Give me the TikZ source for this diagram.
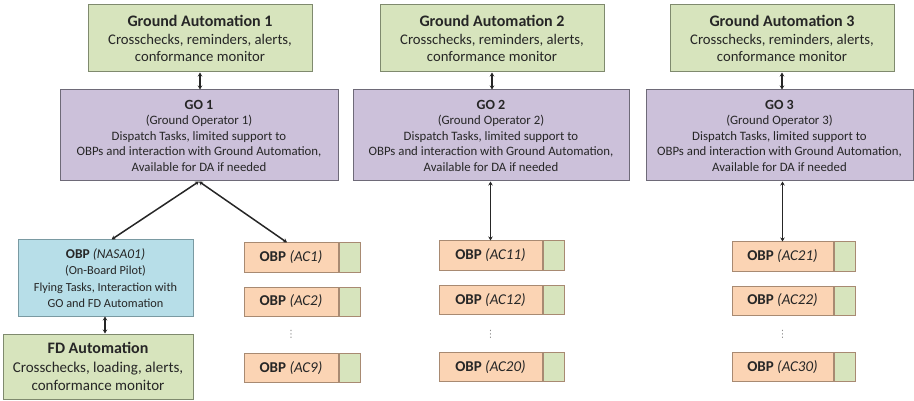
\documentclass[tikz,border=0pt]{standalone}
\usepackage{fontspec}
\setmainfont{Carlito}
\newfontfamily\dejavu{DejaVu Sans}
\usetikzlibrary{arrows.meta}
\definecolor{gafill}{HTML}{D7E4BD}
\definecolor{gadraw}{HTML}{7F8A6E}
\definecolor{gofill}{HTML}{CCC1DA}
\definecolor{godraw}{HTML}{6E6A78}
\definecolor{obfill}{HTML}{B7DEE8}
\definecolor{obdraw}{HTML}{7A9AA2}
\definecolor{acfill}{HTML}{FBD4B4}
\definecolor{acdraw}{HTML}{A88A72}
\definecolor{txt}{HTML}{262626}
\tikzset{
  box/.style={draw, line width=1pt, align=center, inner sep=0pt, text=txt},
  gabox/.style={box, fill=gafill, draw=gadraw, minimum width=224pt, minimum height=67pt,
     font=\fontsize{14.7}{17.5}\selectfont},
  gobox/.style={box, fill=gofill, draw=godraw, minimum height=91pt,
     font=\fontsize{12.8}{15.5}\selectfont},
  obbox/.style={box, fill=obfill, draw=obdraw, minimum width=175pt, minimum height=76pt,
     font=\fontsize{12.3}{16.5}\selectfont},
  fdbox/.style={box, fill=gafill, draw=gadraw, minimum width=190pt, minimum height=65pt,
     font=\fontsize{15}{18.5}\selectfont},
  acbox/.style={box, fill=acfill, draw=acdraw, minimum height=29pt, font=\fontsize{15}{17}\selectfont},
  accap/.style={box, fill=gafill, draw=acdraw, minimum height=29pt, minimum width=21pt},
  link/.style={draw=black!85, line width=1.5pt, {Stealth[length=4pt,width=4.5pt]}-{Stealth[length=4pt,width=4.5pt]}},
  vdot/.style={text=black!45, font=\dejavu\fontsize{10}{10}\selectfont, inner sep=0pt}
}
\begin{document}
\begin{tikzpicture}[x=1pt,y=-1pt]
\useasboundingbox (0,0) rectangle (914,401);
% Ground automation
\node[gabox] (ga1) at (200,38.5) {{\fontsize{16}{18}\selectfont\textbf{Ground Automation 1}}\\Crosschecks, reminders, alerts,\\conformance monitor};
\node[gabox] (ga2) at (492,38.5) {{\fontsize{16}{18}\selectfont\textbf{Ground Automation 2}}\\Crosschecks, reminders, alerts,\\conformance monitor};
\node[gabox] (ga3) at (782,38.5) {{\fontsize{16}{18}\selectfont\textbf{Ground Automation 3}}\\Crosschecks, reminders, alerts,\\conformance monitor};
% Ground operators
\node[gobox, minimum width=278pt] (go1) at (199,135.5) {{\fontsize{14}{17}\selectfont\textbf{GO 1}}\\(Ground Operator 1)\\Dispatch Tasks, limited support to\\OBPs and interaction with Ground Automation,\\Available for DA if needed};
\node[gobox, minimum width=276pt] (go2) at (491,135.5) {{\fontsize{14}{17}\selectfont\textbf{GO 2}}\\(Ground Operator 2)\\Dispatch Tasks, limited support to\\OBPs and interaction with Ground Automation,\\Available for DA if needed};
\node[gobox, minimum width=267pt] (go3) at (779.5,135.5) {{\fontsize{14}{17}\selectfont\textbf{GO 3}}\\(Ground Operator 3)\\Dispatch Tasks, limited support to\\OBPs and interaction with Ground Automation,\\Available for DA if needed};
% On-board pilot and FD automation
\node[obbox] (nasa) at (105.5,278) {{\fontsize{13.5}{16.5}\selectfont\textbf{OBP} \textit{(NASA01)}}\\(On-Board Pilot)\\Flying Tasks, Interaction with\\GO and FD Automation};
\node[fdbox] (fd) at (98,366.5) {{\fontsize{16}{18.5}\selectfont\textbf{FD Automation}}\\Crosschecks, loading, alerts,\\conformance monitor};
% OBP column 1
\node[acbox, minimum width=94pt] (ac1) at (291,257.5) {\textbf{OBP} \textit{(AC1)}};
\node[accap, anchor=west] (ac1c) at (ac1.east) {};
\node[acbox, minimum width=94pt] (ac2) at (291,301.5) {\textbf{OBP} \textit{(AC2)}};
\node[accap, anchor=west] (ac2c) at (ac2.east) {};
\node[vdot] (d1) at (291,334) {⋮};
\node[acbox, minimum width=94pt] (ac9) at (291,368) {\textbf{OBP} \textit{(AC9)}};
\node[accap, anchor=west] (ac9c) at (ac9.east) {};
% OBP column 2
\node[acbox, minimum width=103pt] (ac11) at (490.5,255.5) {\textbf{OBP} \textit{(AC11)}};
\node[accap, anchor=west] (ac11c) at (ac11.east) {};
\node[acbox, minimum width=103pt] (ac12) at (490.5,300) {\textbf{OBP} \textit{(AC12)}};
\node[accap, anchor=west] (ac12c) at (ac12.east) {};
\node[vdot] (d2) at (490.5,334) {⋮};
\node[acbox, minimum width=103pt] (ac20) at (490.5,367) {\textbf{OBP} \textit{(AC20)}};
\node[accap, anchor=west] (ac20c) at (ac20.east) {};
% OBP column 3
\node[acbox, minimum width=101pt] (ac21) at (782.5,256.5) {\textbf{OBP} \textit{(AC21)}};
\node[accap, anchor=west] (ac21c) at (ac21.east) {};
\node[acbox, minimum width=101pt] (ac22) at (782.5,300.5) {\textbf{OBP} \textit{(AC22)}};
\node[accap, anchor=west] (ac22c) at (ac22.east) {};
\node[vdot] (d3) at (782.5,334) {⋮};
\node[acbox, minimum width=101pt] (ac30) at (782.5,367) {\textbf{OBP} \textit{(AC30)}};
\node[accap, anchor=west] (ac30c) at (ac30.east) {};
% connectors
\draw[link] (ga1.south) -- (ga1.south |- go1.north);
\draw[link] (ga2.south) -- (ga2.south |- go2.north);
\draw[link] (ga3.south) -- (ga3.south |- go3.north);
\draw[link] (go1.south) -- ([xshift=6pt]nasa.north);
\draw[link] (go1.south) -- ([xshift=-4pt]ac1.north);
\draw[link] (ac11.north |- go2.south) -- (ac11.north);
\draw[link] (ac21.north |- go3.south) -- (ac21.north);
\draw[link] ([xshift=-0.5pt]nasa.south) -- ([xshift=-0.5pt]nasa.south |- fd.north);
\end{tikzpicture}
\end{document}
